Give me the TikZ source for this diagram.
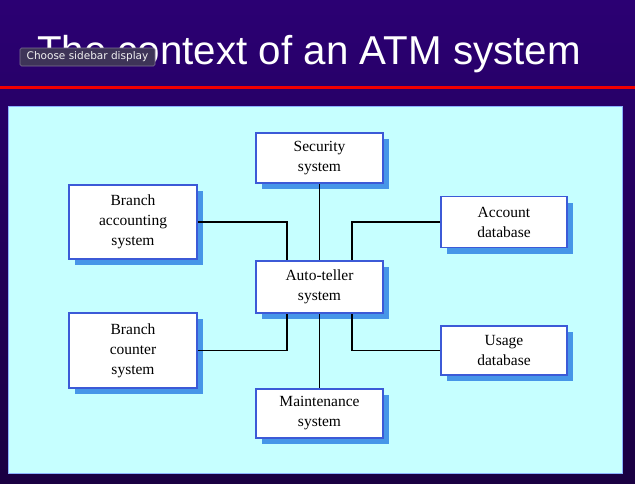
\documentclass[tikz,border=0pt]{standalone}
\usepackage{fontspec}
\setmainfont{Liberation Serif}
\newfontfamily\titlefont{Liberation Sans}
\newfontfamily\tipfont{DejaVu Sans}
\usetikzlibrary{shadows}
\definecolor{bgtop}{RGB}{43,0,115}
\definecolor{bgbot}{RGB}{26,0,66}
\definecolor{panelc}{RGB}{198,255,255}
\definecolor{boxline}{RGB}{60,90,215}
\definecolor{shadowc}{RGB}{70,150,232}
\definecolor{tipfill}{RGB}{62,52,88}
\definecolor{tipline}{RGB}{125,115,145}
\tikzset{
  sysbox/.style={draw=boxline, line width=1.6pt, fill=white, inner sep=0pt,
    align=center, font=\fontsize{15.5}{20}\selectfont,
    drop shadow={shadow xshift=6pt, shadow yshift=-6pt, fill=shadowc, opacity=1}},
  link/.style={line width=1.8pt, black}
}
\begin{document}
\begin{tikzpicture}[x=1pt,y=-1pt]
\useasboundingbox (0,0) rectangle (635,483);
\shade[top color=bgtop, bottom color=bgbot] (0,0) rectangle (635,483);
\fill[red!95!black] (0,85.5) rectangle (635,89);
\node[anchor=base west, text=white, inner sep=0pt, font=\titlefont\fontsize{40.3}{44}\selectfont] (title) at (37,64) {The context of an ATM system};
\node[draw=tipline, fill=tipfill, text=white!90!gray, rounded corners=1.5pt, line width=0.6pt,
  minimum width=135pt, minimum height=18pt, inner sep=0pt, font=\tipfont\fontsize{10.5}{12}\selectfont] (tip) at (87.5,57) {Choose sidebar display};
\draw[fill=panelc, draw=panelc!70!blue, line width=0.6pt] (8,106) rectangle (622,473);
\node[sysbox, minimum width=127pt, minimum height=50pt] (sec) at (319.5,158) {Security\\system};
\node[sysbox, minimum width=127pt, minimum height=52pt] (auto) at (319.5,287) {Auto-teller\\system};
\node[sysbox, minimum width=127pt, minimum height=49pt] (maint) at (319.5,413.5) {Maintenance\\system};
\node[sysbox, minimum width=128pt, minimum height=74pt] (bacc) at (133,222) {Branch\\accounting\\system};
\node[sysbox, minimum width=128pt, minimum height=75pt] (bcnt) at (133,350.5) {Branch\\counter\\system};
\node[sysbox, minimum width=126pt, minimum height=51pt] (acc) at (504,222) {Account\\database};
\node[sysbox, minimum width=126pt, minimum height=49pt] (usage) at (504,350.5) {Usage\\database};
\draw[link] (sec) -- (auto);
\draw[link] (auto) -- (maint);
\draw[link] (bacc.east) -| ([xshift=-32.5pt]auto.north);
\draw[link] (acc.west) -| ([xshift=32.5pt]auto.north);
\draw[link] (bcnt.east) -| ([xshift=-32.5pt]auto.south);
\draw[link] (usage.west) -| ([xshift=32.5pt]auto.south);
\end{tikzpicture}
\end{document}
